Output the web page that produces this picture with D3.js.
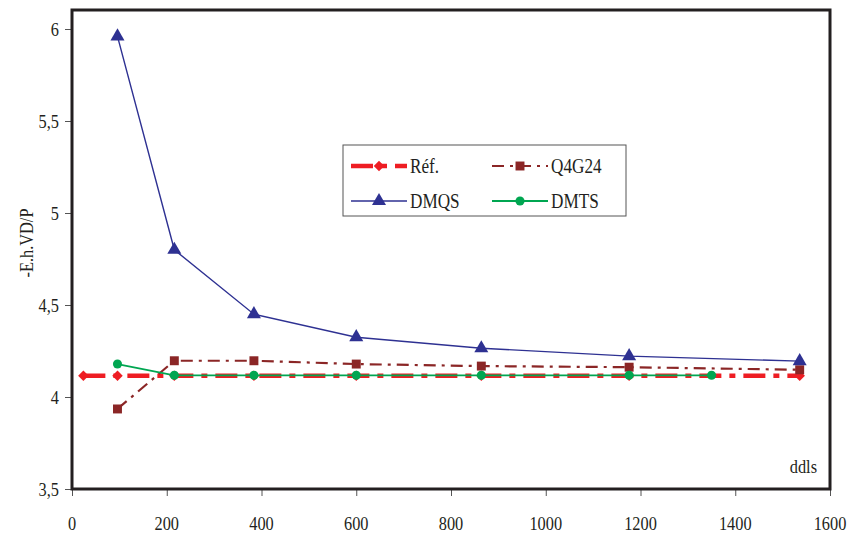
<!DOCTYPE html>
<html><head><meta charset="utf-8">
<script src="https://cdn.jsdelivr.net/npm/d3@7"></script>
<style>body{margin:0;background:#fff}svg{display:block}text{font-family:"Liberation Serif","Times New Roman",serif;fill:#231F20}</style>
</head><body><svg id="c" width="851" height="538"></svg>
<script>
const refX = [24, 96, 216, 384, 600, 864, 1176, 1536];
const refY = [4.115, 4.115, 4.115, 4.115, 4.115, 4.115, 4.115, 4.115];
const q4X = [96, 216, 384, 600, 864, 1176, 1536];
const q4Y = [3.935, 4.197, 4.197, 4.179, 4.168, 4.162, 4.148];
const dmqsX = [96, 216, 384, 600, 864, 1176, 1536];
const dmqsY = [5.96, 4.80, 4.45, 4.325, 4.265, 4.222, 4.195];
const dmtsX = [96, 216, 384, 600, 864, 1176, 1350];
const dmtsY = [4.179, 4.118, 4.118, 4.118, 4.118, 4.118, 4.118];
const xTicks = [0, 200, 400, 600, 800, 1000, 1200, 1400, 1600];
const yTicks = [3.5, 4, 4.5, 5, 5.5, 6];
const yTickLabels = ["3,5", "4", "4,5", "5", "5,5", "6"];
const seriesNames = ["Réf.", "Q4G24", "DMQS", "DMTS"];

const svg = d3.select("#c");
const L = 72, R = 830, T = 10, B = 489;
const x = d3.scaleLinear().domain([0, 1600]).range([L, R]);
const y = d3.scaleLinear().domain([3.5, 6]).range([B, 29]);
const SX = 0.86;
const ink = "#231F20";

function txt(g, s, tx, ty, anchor, size, rot) {
  return g.append("text").attr("transform", `translate(${tx},${ty})` + (rot ? ` rotate(${rot})` : "") + ` scale(${SX},1)`)
    .attr("text-anchor", anchor).attr("font-size", size).text(s);
}

const xa = svg.append("g").attr("transform", `translate(0,${B})`)
  .call(d3.axisBottom(x).tickValues(xTicks).tickSize(7).tickFormat(""));
xa.select(".domain").remove();
xa.selectAll("line").attr("stroke", "#555").attr("stroke-width", 1);
const ya = svg.append("g").attr("transform", `translate(${L},0)`)
  .call(d3.axisLeft(y).tickValues(yTicks).tickSize(7).tickFormat(""));
ya.select(".domain").remove();
ya.selectAll("line").attr("stroke", "#555").attr("stroke-width", 1);

xTicks.forEach(v => txt(svg, String(v), x(v), 530, "middle", 19));
yTicks.forEach((v, i) => txt(svg, yTickLabels[i], 59, y(v) + 6.5, "end", 19));
txt(svg, "-E.h.VD/P", 33, 243, "middle", 19, -90);
txt(svg, "ddls", 817, 473, "end", 19);

svg.append("rect").attr("x", L).attr("y", T).attr("width", R - L).attr("height", B - T)
  .attr("fill", "none").attr("stroke", ink).attr("stroke-width", 3);

const line = d3.line().x(d => x(d[0])).y(d => y(d[1]));
const zip = (a, b) => a.map((v, i) => [v, b[i]]);

const styles = {
  "Réf.": {c: "#EE1D23", w: 4.5, dash: "22,8,6,8", sym: d3.symbolSquare, size: 55, rot: 45},
  "Q4G24": {c: "#8B2626", w: 2.2, dash: "12,6,3,6", sym: d3.symbolSquare, size: 80, rot: 0},
  "DMQS": {c: "#2E3192", w: 1.4, dash: null, sym: d3.symbolTriangle, size: 85, rot: 0},
  "DMTS": {c: "#00A651", w: 1.8, dash: null, sym: d3.symbolCircle, size: 65, rot: 0}
};
const data = {
  "Réf.": zip(refX, refY), "Q4G24": zip(q4X, q4Y), "DMQS": zip(dmqsX, dmqsY), "DMTS": zip(dmtsX, dmtsY)
};

seriesNames.forEach(n => {
  const s = styles[n];
  const g = svg.append("g");
  g.append("path").datum(data[n]).attr("d", line).attr("fill", "none")
    .attr("stroke", s.c).attr("stroke-width", s.w).attr("stroke-dasharray", s.dash);
  g.selectAll("path.m").data(data[n]).join("path").attr("class", "m")
    .attr("transform", d => `translate(${x(d[0])},${y(d[1])}) rotate(${s.rot})`)
    .attr("d", d3.symbol().type(s.sym).size(s.size)).attr("fill", s.c);
});

const lg = svg.append("g");
lg.append("rect").attr("x", 343).attr("y", 145).attr("width", 283).attr("height", 71)
  .attr("fill", "#fff").attr("stroke", "#555").attr("stroke-width", 1);
const pos = [[351, 166], [492, 166], [351, 201], [492, 201]];
seriesNames.forEach((n, i) => {
  const s = styles[n], [px, py] = pos[i];
  lg.append("path").attr("d", `M${px},${py}H${px + 56}`).attr("stroke", s.c).attr("stroke-width", s.w)
    .attr("stroke-dasharray", s.dash).attr("fill", "none");
  lg.append("path").attr("transform", `translate(${px + 28},${py}) rotate(${s.rot})`)
    .attr("d", d3.symbol().type(s.sym).size(s.size)).attr("fill", s.c);
  txt(lg, n, px + 59, py + 7, "start", 20);
});
</script></body></html>
